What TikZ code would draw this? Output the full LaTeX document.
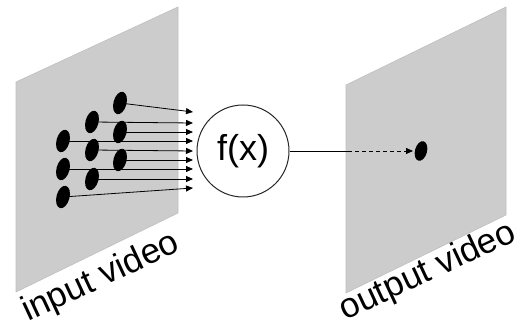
\documentclass[tikz,border=0pt]{standalone}
\usepackage{fontspec}
\setmainfont{Liberation Sans}
\usetikzlibrary{arrows.meta,shapes.geometric}
\begin{document}
\begin{tikzpicture}[x=1pt,y=-1pt,
  panel/.style={fill=black!20, draw=black!25, line width=0.6pt},
  pixel/.style={ellipse, fill=black, inner sep=0pt, minimum width=13pt, minimum height=23pt, rotate=-15},
  feed/.style={line width=0.8pt, -{Triangle[length=7pt,width=6pt]}},
  label/.style={rotate=25, font=\fontsize{35}{39}\selectfont, inner sep=0pt}]
\useasboundingbox (0,0) rectangle (522,328);

% video frames
\path[panel] (16,82) -- (178,7) -- (178,213) -- (16,292) -- cycle;
\path[panel] (346,85) -- (506,7) -- (506,215) -- (346,293) -- cycle;

% input pixels
\node[pixel] (a1) at (63,141) {};
\node[pixel] (a2) at (63,169) {};
\node[pixel] (a3) at (63,197) {};
\node[pixel] (b1) at (92,122) {};
\node[pixel] (b2) at (92,150) {};
\node[pixel] (b3) at (92,179) {};
\node[pixel] (c1) at (120,103) {};
\node[pixel] (c2) at (120,132) {};
\node[pixel] (c3) at (120,160) {};

% function
\node[circle, draw=black!85, line width=1pt, minimum size=92pt, inner sep=0pt,
      font=\fontsize{36}{40}\selectfont] (f) at (243,151) {f(x)};

% arrow tips in front of the function
\coordinate (t1) at (193,112);
\coordinate (t2) at (193,123);
\coordinate (t3) at (193,132);
\coordinate (t4) at (193,141);
\coordinate (t5) at (193,151);
\coordinate (t6) at (193,160);
\coordinate (t7) at (193,169);
\coordinate (t8) at (193,179);
\coordinate (t9) at (193,188);

\draw[feed] (c1.center) -- (t1);
\draw[feed] (b1.center) -- (t2);
\draw[feed] (c2.center) -- (t3);
\draw[feed] (a1.center) -- (t4);
\draw[feed] (b2.center) -- (t5);
\draw[feed] (c3.center) -- (t6);
\draw[feed] (a2.center) -- (t7);
\draw[feed] (b3.center) -- (t8);
\draw[feed] (a3.center) -- (t9);

% output pixel
\node[pixel, minimum width=12pt, minimum height=20pt] (out) at (421,151) {};
\coordinate (edge) at (348,151);
\coordinate (tip) at (413,151);
\draw[line width=0.8pt] (f.east) -- (edge);
\draw[line width=0.8pt, dash pattern=on 4pt off 3pt, -{Triangle[length=7pt,width=6pt]}]
  (edge) -- (tip);

% labels
\node[label] (lin) at (101,278) {input video};
\node[label] (lout) at (428,272) {output video};
\end{tikzpicture}
\end{document}
